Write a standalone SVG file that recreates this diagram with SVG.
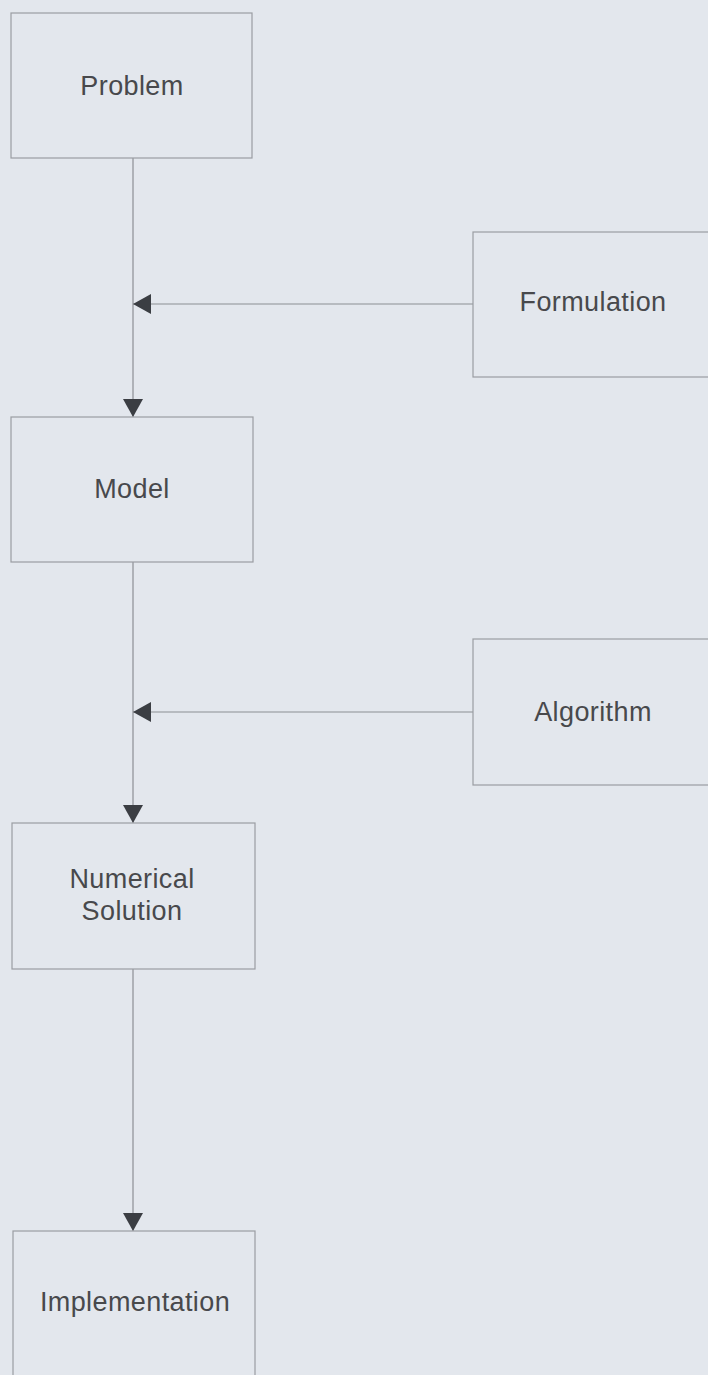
<svg xmlns="http://www.w3.org/2000/svg" width="708" height="1375" viewBox="0 0 708 1375">
  <style>
    .box { fill: none; stroke: #9a9da2; stroke-width: 1.2; }
    .label { font-family: "Liberation Sans", Arial, sans-serif; font-size: 27px; letter-spacing: 0.4px; fill: #48494c; text-anchor: middle; }
    .link { fill: none; stroke: #8c8f94; stroke-width: 1.2; marker-end: url(#tip); }
  </style>
  <defs>
    <marker id="tip" viewBox="0 0 18 20" refX="18" refY="10" markerWidth="18" markerHeight="20" markerUnits="userSpaceOnUse" orient="auto">
      <path d="M0,0 L18,10 L0,20 Z" fill="#3b3e43"/>
    </marker>
  </defs>
  <rect width="708" height="1375" fill="#e3e7ed"/>

  <g id="connectors">
    <line class="link" x1="133" y1="158" x2="133" y2="417"/>
    <line class="link" x1="473" y1="304" x2="133" y2="304"/>
    <line class="link" x1="133" y1="562" x2="133" y2="823"/>
    <line class="link" x1="473" y1="712" x2="133" y2="712"/>
    <line class="link" x1="133" y1="969" x2="133" y2="1231"/>
  </g>

  <g id="problem">
    <rect class="box" x="11" y="13" width="241" height="145"/>
    <text class="label" x="132" y="95">Problem</text>
  </g>
  <g id="formulation">
    <rect class="box" x="473" y="232" width="250" height="145"/>
    <text class="label" x="593" y="311">Formulation</text>
  </g>
  <g id="model">
    <rect class="box" x="11" y="417" width="242" height="145"/>
    <text class="label" x="132" y="498">Model</text>
  </g>
  <g id="algorithm">
    <rect class="box" x="473" y="639" width="250" height="146"/>
    <text class="label" x="593" y="721">Algorithm</text>
  </g>
  <g id="numerical-solution">
    <rect class="box" x="12" y="823" width="243" height="146"/>
    <text class="label" x="132" y="888">Numerical</text>
    <text class="label" x="132" y="920">Solution</text>
  </g>
  <g id="implementation">
    <rect class="box" x="13" y="1231" width="242" height="160"/>
    <text class="label" x="135" y="1311">Implementation</text>
  </g>
</svg>
